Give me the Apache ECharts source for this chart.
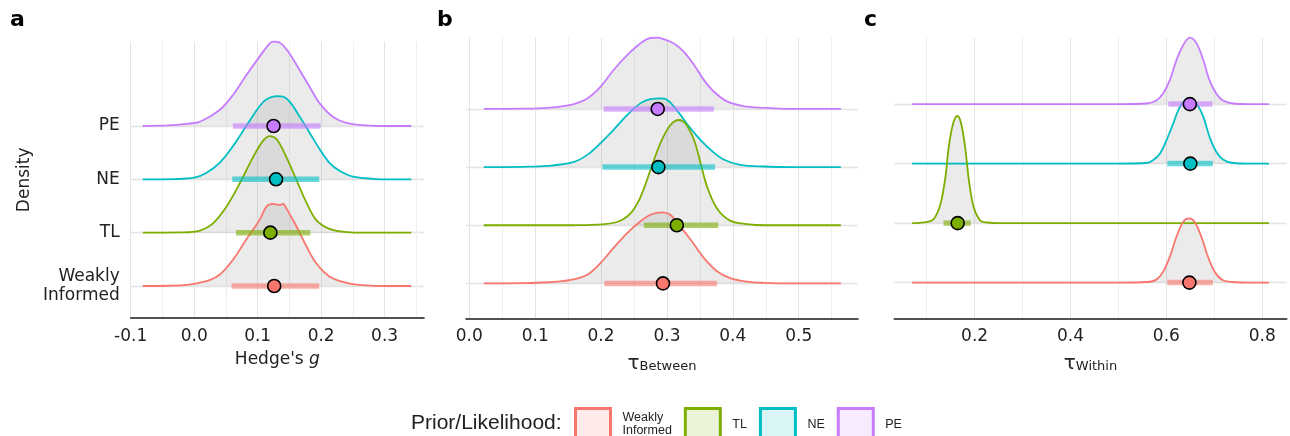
<!DOCTYPE html>
<html>
<head>
<meta charset="utf-8">
<script src="https://cdn.jsdelivr.net/npm/echarts@6/dist/echarts.min.js"></script>
<style>html,body{margin:0;padding:0;background:#fff}#c{width:1290px;height:436px}</style>
</head>
<body>
<div id="c"></div>
<script>
// ---------- DATA ----------
// order: Weakly Informed, TL, NE, PE (baseline 0..3)
const priors = ['Weakly Informed', 'TL', 'NE', 'PE'];

// Panel a: Hedge's g  — density curves as [x, relative height]
const hedgeWI = [[-0.081,0],[-0.040,0.005],[-0.012,0.02],[0.019,0.09],[0.040,0.21],[0.061,0.49],[0.082,0.87],[0.103,1.24],[0.114,1.49],[0.124,1.54],[0.135,1.52],[0.140,1.54],[0.145,1.46],[0.161,1.12],[0.177,0.74],[0.192,0.43],[0.213,0.18],[0.240,0.06],[0.271,0.01],[0.300,0],[0.342,0]];
const hedgeTL = [[-0.081,0],[-0.020,0.005],[0.009,0.04],[0.030,0.18],[0.051,0.49],[0.072,0.93],[0.093,1.42],[0.109,1.73],[0.119,1.81],[0.130,1.75],[0.145,1.42],[0.161,0.99],[0.177,0.56],[0.192,0.24],[0.213,0.07],[0.240,0.01],[0.270,0],[0.342,0]];
const hedgeNE = [[-0.081,0],[-0.030,0.005],[0.000,0.03],[0.019,0.12],[0.040,0.31],[0.061,0.62],[0.082,1.00],[0.103,1.37],[0.114,1.50],[0.130,1.56],[0.140,1.55],[0.150,1.46],[0.166,1.18],[0.182,0.87],[0.198,0.56],[0.213,0.31],[0.229,0.16],[0.250,0.05],[0.282,0.01],[0.310,0],[0.342,0]];
const hedgePE = [[-0.081,0],[-0.040,0.01],[-0.012,0.04],[0.009,0.08],[0.040,0.30],[0.061,0.58],[0.082,0.95],[0.103,1.30],[0.119,1.55],[0.125,1.58],[0.135,1.56],[0.150,1.36],[0.166,1.05],[0.182,0.73],[0.198,0.42],[0.219,0.17],[0.240,0.06],[0.271,0.01],[0.300,0],[0.342,0]];
const hedgeMedian = [0.126, 0.120, 0.129, 0.125];
const hedgeLow    = [0.059, 0.066, 0.060, 0.061];
const hedgeHigh   = [0.197, 0.183, 0.197, 0.199];

// Panel b: tau Between
const betwWI = [[0.022,0],[0.080,0.005],[0.119,0.02],[0.154,0.06],[0.179,0.15],[0.199,0.35],[0.219,0.61],[0.240,0.87],[0.260,1.07],[0.275,1.18],[0.293,1.22],[0.305,1.18],[0.320,0.98],[0.336,0.75],[0.356,0.44],[0.376,0.21],[0.396,0.09],[0.421,0.03],[0.447,0.01],[0.490,0],[0.564,0]];
const betwTL = [[0.022,0],[0.150,0],[0.194,0.01],[0.225,0.06],[0.245,0.21],[0.260,0.49],[0.275,0.95],[0.290,1.41],[0.305,1.72],[0.318,1.81],[0.328,1.75],[0.341,1.47],[0.351,1.07],[0.361,0.66],[0.376,0.29],[0.396,0.08],[0.421,0.02],[0.450,0],[0.564,0]];
const betwNE = [[0.022,0],[0.080,0.005],[0.119,0.02],[0.159,0.09],[0.179,0.21],[0.199,0.41],[0.219,0.64],[0.240,0.90],[0.260,1.10],[0.275,1.17],[0.290,1.18],[0.300,1.16],[0.315,0.98],[0.330,0.75],[0.346,0.53],[0.366,0.30],[0.386,0.13],[0.411,0.04],[0.447,0.01],[0.490,0],[0.564,0]];
const betwPE = [[0.022,0],[0.080,0.005],[0.119,0.02],[0.154,0.07],[0.179,0.18],[0.199,0.38],[0.219,0.67],[0.240,0.93],[0.260,1.13],[0.275,1.22],[0.285,1.225],[0.295,1.20],[0.310,1.13],[0.325,0.99],[0.341,0.76],[0.356,0.50],[0.371,0.30],[0.391,0.13],[0.416,0.05],[0.447,0.02],[0.490,0],[0.564,0]];
const betwMedian = [0.294, 0.315, 0.287, 0.286];
const betwLow    = [0.205, 0.265, 0.202, 0.204];
const betwHigh   = [0.376, 0.378, 0.373, 0.371];

// Panel c: tau Within
const withWI = [[0.0696,0],[0.500,0],[0.559,0.01],[0.579,0.05],[0.593,0.18],[0.607,0.43],[0.621,0.77],[0.635,1.02],[0.647,1.08],[0.659,1.02],[0.673,0.77],[0.687,0.43],[0.701,0.18],[0.718,0.04],[0.739,0.01],[0.770,0],[0.814,0]];
const withTL = [[0.0696,0],[0.085,0.005],[0.101,0.02],[0.115,0.07],[0.129,0.33],[0.139,0.77],[0.146,1.28],[0.155,1.67],[0.164,1.80],[0.172,1.67],[0.181,1.22],[0.188,0.72],[0.198,0.27],[0.212,0.04],[0.226,0.01],[0.250,0],[0.814,0]];
const withNE = [[0.0696,0],[0.500,0],[0.559,0.01],[0.5725,0.06],[0.586,0.16],[0.600,0.39],[0.614,0.67],[0.628,0.95],[0.642,1.07],[0.652,1.08],[0.663,1.01],[0.677,0.79],[0.690,0.45],[0.704,0.20],[0.718,0.07],[0.739,0.01],[0.770,0],[0.814,0]];
const withPE = [[0.0696,0],[0.500,0],[0.559,0.01],[0.579,0.06],[0.593,0.18],[0.607,0.40],[0.621,0.74],[0.635,0.99],[0.649,1.116],[0.663,1.02],[0.677,0.74],[0.690,0.40],[0.704,0.18],[0.718,0.06],[0.739,0.01],[0.770,0],[0.814,0]];
const withMedian = [0.648, 0.1646, 0.650, 0.649];
const withLow    = [0.602, 0.135, 0.602, 0.604];
const withHigh   = [0.697, 0.192, 0.697, 0.696];

// Tick labels / gridline values
const hedgeTicks = [-0.1, 0.0, 0.1, 0.2, 0.3];
const hedgeGrid  = [-0.1,-0.05,0,0.05,0.1,0.15,0.2,0.25,0.3,0.35];
const betwTicks  = [0.0, 0.1, 0.2, 0.3, 0.4, 0.5];
const betwGrid   = [0,0.05,0.1,0.15,0.2,0.25,0.3,0.35,0.4,0.45,0.5,0.55];
const withTicks  = [0.2, 0.4, 0.6, 0.8];
const withGrid   = [0.1,0.2,0.3,0.4,0.5,0.6,0.7,0.8];
const rowValues  = [0, 1, 2, 3];

// ---------- STYLE ----------
const palette = ['#F8766D', '#7CAE00', '#00BFC4', '#C77CFF'];
const paletteLight = ['rgba(248,118,109,0.15)', 'rgba(124,174,0,0.15)', 'rgba(0,191,196,0.15)', 'rgba(199,124,255,0.15)'];
const FONT = 'DejaVu Sans';
const MAJ = '#e4e4e4', MIN = '#efefef';

const panels = [
  { dens: [hedgeWI, hedgeTL, hedgeNE, hedgePE], med: hedgeMedian, lo: hedgeLow, hi: hedgeHigh,
    ticks: hedgeTicks, grid: hedgeGrid, xmin: -0.1, xmax: 0.362, ymax: 4.58,
    gridPos: { left: 130.7, top: 41.7, width: 293.3, height: 276.3 },
    colors: hedgeGrid.map((v, i) => i % 2 === 0 ? MAJ : MIN),
    name: "Hedge's {i|g}" },
  { dens: [betwWI, betwTL, betwNE, betwPE], med: betwMedian, lo: betwLow, hi: betwHigh,
    ticks: betwTicks, grid: betwGrid, xmin: -0.005, xmax: 0.590, ymax: 4.225,
    gridPos: { left: 466, top: 37.7, width: 392, height: 280.6 },
    colors: betwGrid.map((v, i) => i % 2 === 0 ? MAJ : MIN),
    name: '{t|τ}{s|Between}' },
  { dens: [withWI, withTL, withNE, withPE], med: withMedian, lo: withLow, hi: withHigh,
    ticks: withTicks, grid: withGrid, xmin: 0.0324, xmax: 0.851, ymax: 4.116,
    gridPos: { left: 894.3, top: 37.7, width: 392.4, height: 280.6 },
    colors: withGrid.map((v, i) => i % 2 === 1 ? MAJ : MIN),
    name: '{t|τ}{s|Within}' }
];

const grids = [], xAxes = [], yAxes = [], series = [];
panels.forEach((p, pi) => {
  grids.push(Object.assign({ containLabel: false }, p.gridPos));
  xAxes.push({
    type: 'value', gridIndex: pi, min: p.xmin, max: p.xmax,
    axisLine: { show: true, onZero: false, lineStyle: { color: '#1a1a1a', width: 1.6 } },
    axisTick: { show: false, customValues: p.grid },
    axisLabel: { customValues: p.ticks, formatter: v => v.toFixed(1), fontFamily: FONT, fontSize: 17, color: '#222', margin: 10 },
    splitLine: { show: true, lineStyle: { color: p.colors, width: 1 } },
    name: p.name, nameLocation: 'middle', nameGap: 33,
    nameTextStyle: { fontFamily: FONT, fontSize: 17, color: '#222',
      rich: { i: { fontFamily: FONT, fontSize: 17, fontStyle: 'italic', color: '#222' },
              t: { fontFamily: FONT, fontSize: 20, color: '#222', verticalAlign: 'bottom', lineHeight: 22 },
              s: { fontFamily: FONT, fontSize: 13, color: '#222', verticalAlign: 'bottom', lineHeight: 16 } } }
  });
  yAxes.push({
    type: 'value', gridIndex: pi, min: -0.6, max: p.ymax,
    axisLine: { show: false }, axisTick: { show: false, customValues: rowValues },
    axisLabel: { show: pi === 0, customValues: rowValues, fontFamily: FONT, fontSize: 17, color: '#222', margin: 11, lineHeight: 19, align: 'right',
      formatter: v => { const n = priors[Math.round(v)]; return n === 'Weakly Informed' ? 'Weakly\nInformed' : n; } },
    splitLine: { show: true, lineStyle: { color: MAJ, width: 1.3 } },
    name: pi === 0 ? 'Density' : '', nameLocation: 'middle', nameGap: 98, nameRotate: 90,
    nameTextStyle: { fontFamily: FONT, fontSize: 17, color: '#222' }
  });
  // curves, back (PE) to front (WI)
  for (let k = 3; k >= 0; k--) {
    series.push({
      type: 'line', name: priors[k], xAxisIndex: pi, yAxisIndex: pi,
      data: p.dens[k].map(d => [d[0], k + d[1]]),
      smooth: 0.35, symbol: 'none', showSymbol: false, clip: false, silent: true,
      lineStyle: { color: palette[k], width: 1.8 },
      itemStyle: { color: palette[k] },
      areaStyle: { origin: k, color: 'rgba(128,128,128,0.16)', opacity: 1 },
      z: 2
    });
  }
  for (let k = 3; k >= 0; k--) {
    series.push({
      type: 'line', name: 'ci-' + pi + '-' + k, xAxisIndex: pi, yAxisIndex: pi,
      data: [[p.lo[k], k], [p.hi[k], k]],
      symbol: 'none', silent: true,
      lineStyle: { color: palette[k], width: 5.5, opacity: 0.6, cap: 'butt' },
      z: 3
    });
    series.push({
      type: 'scatter', name: 'pt-' + pi + '-' + k, xAxisIndex: pi, yAxisIndex: pi,
      data: [[p.med[k], k]], symbolSize: 13, silent: true,
      itemStyle: { color: palette[k], borderColor: '#000', borderWidth: 1.6, opacity: 1 },
      z: 4
    });
  }
});

const option = {
  animation: false,
  backgroundColor: '#fff',
  title: [
    { text: 'a', left: 10, top: 9, padding: 0, textStyle: { fontFamily: FONT, fontWeight: 'bold', fontSize: 22, color: '#000' } },
    { text: 'b', left: 437, top: 9, padding: 0, textStyle: { fontFamily: FONT, fontWeight: 'bold', fontSize: 22, color: '#000' } },
    { text: 'c', left: 864, top: 9, padding: 0, textStyle: { fontFamily: FONT, fontWeight: 'bold', fontSize: 22, color: '#000' } },
    { text: 'Prior/Likelihood:', left: 411, top: 413, padding: 0, textStyle: { fontFamily: 'Liberation Sans', fontWeight: 'normal', fontSize: 21, color: '#222' } }
  ],
  legend: {
    data: priors.map((n, k) => ({ name: n, icon: 'rect', itemStyle: { color: paletteLight[k], borderColor: palette[k], borderWidth: 3 } })),
    left: 574, top: 407, padding: 0, orient: 'horizontal',
    itemWidth: 35, itemHeight: 32, itemGap: 12, selectedMode: false,
    formatter: n => n === 'Weakly Informed' ? 'Weakly\nInformed' : n,
    textStyle: { fontFamily: 'Liberation Sans', fontSize: 12.5, color: '#222', lineHeight: 13, padding: [0, 0, 0, 7] }
  },
  grid: grids, xAxis: xAxes, yAxis: yAxes, series: series
};

const chart = echarts.init(document.getElementById('c'), null, { renderer: 'canvas' });
chart.setOption(option);
</script>
</body>
</html>
